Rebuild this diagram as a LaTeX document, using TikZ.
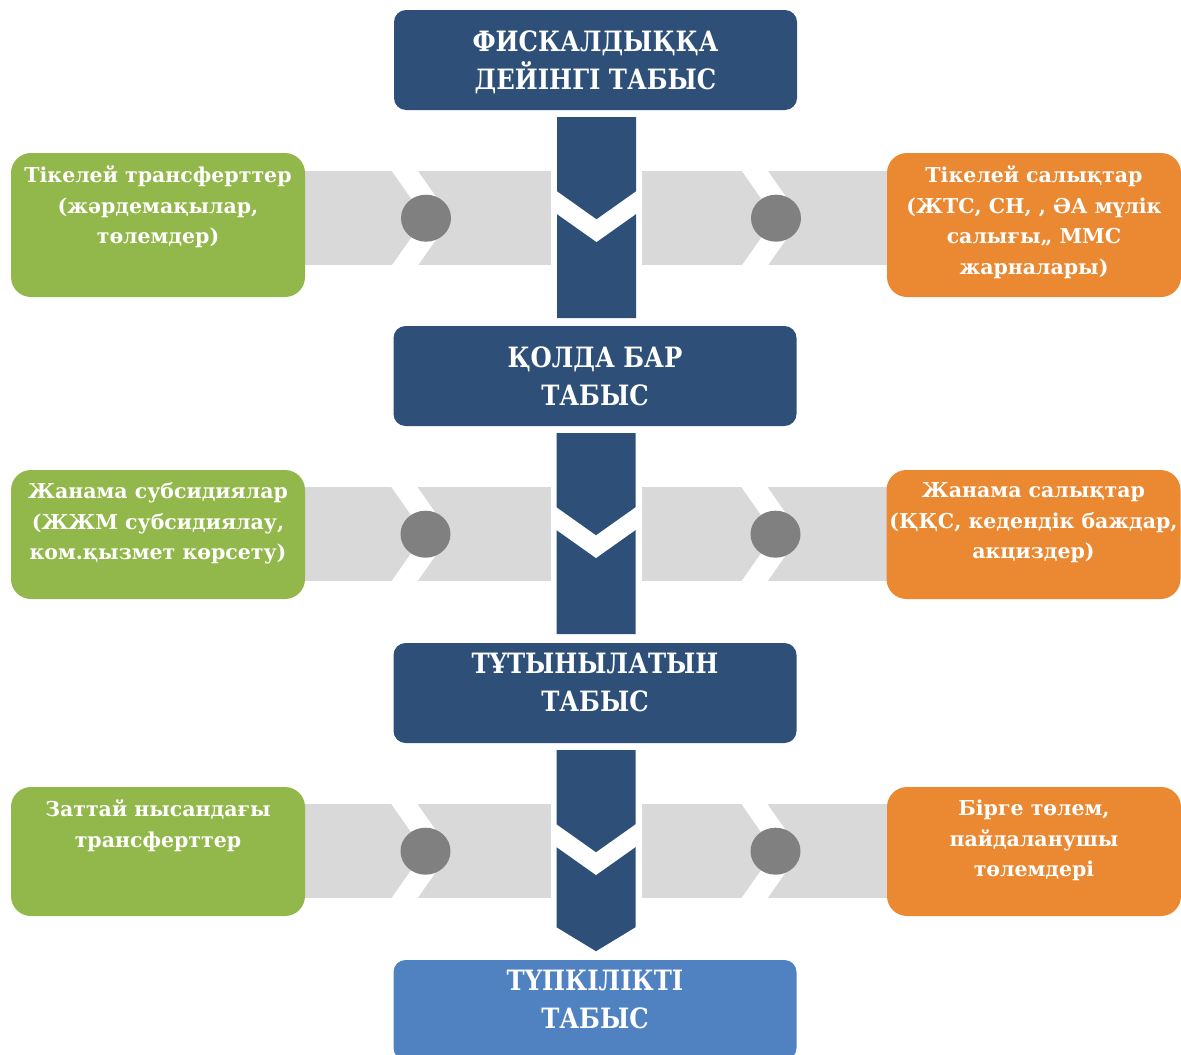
\documentclass[tikz,border=0pt]{standalone}
\usepackage{fontspec}
\setmainfont{DejaVu Serif}
\newfontfamily\stagefont[FakeStretch=0.87]{DejaVu Serif}
\usetikzlibrary{calc}
\definecolor{fiscblue}{RGB}{46,79,120}
\definecolor{fisclight}{RGB}{80,130,194}
\definecolor{trgreen}{RGB}{146,183,74}
\definecolor{taxorange}{RGB}{235,137,50}
\definecolor{bargrey}{RGB}{217,217,217}
\definecolor{dotgrey}{RGB}{128,128,128}
\newcommand\sidetext[2]{\parbox[c][#1][t]{290pt}{\centering\vspace*{13pt}#2}}

\begin{document}
\begin{tikzpicture}[x=1pt, y=-1pt,
  stage/.style={rectangle, rounded corners=12pt, fill=fiscblue, minimum width=403pt,
                minimum height=100pt, inner sep=0pt, align=center, text=white,
                font=\stagefont\fontsize{28}{38}\selectfont\bfseries},
  sidebox/.style={rectangle, rounded corners=20pt, minimum width=294pt, inner sep=0pt,
                  text=white, font=\fontsize{20.5}{30.5}\selectfont\bfseries},
  bar/.style={fill=bargrey},
  seg/.style={fill=fiscblue}
]
  \useasboundingbox (0,0) rectangle (1181,1055);
  % income stages
  \node[stage, text depth=-1pt] (s0) at (595.5,60) {ФИСКАЛДЫҚҚА\\ДЕЙІНГІ ТАБЫС};
  \node[stage] (s1) at (595,376)   {ҚОЛДА БАР\\ТАБЫС};
  \node[stage, text depth=22pt] (s2) at (595,693) {ТҰТЫНЫЛАТЫН\\ТАБЫС};
  \node[stage, text depth=22pt, fill=fisclight] (s3) at (595,1010) {ТҮПКІЛІКТІ\\ТАБЫС};
  % down arrows with side bars
  \foreach \k in {0,1,2}{
    \begin{scope}[shift={($(s\k.south)+(1,7)$)}]
      \fill[bar] (-306,54) rectangle (-45.5,148);
      \fill[bar] (45.5,54) rectangle (306,148);
      \fill[white] (-204.5,54) -- (-178.5,54) -- (-145.5,101) -- (-178.5,148)
                   -- (-204.5,148) -- (-171.5,101) -- cycle;
      \fill[white] (145.5,54) -- (171.5,54) -- (204.5,101) -- (171.5,148)
                   -- (145.5,148) -- (178.5,101) -- cycle;
      \fill[dotgrey] (-170.5,101) ellipse [x radius=25pt, y radius=23.5pt];
      \fill[dotgrey] (179.5,101) ellipse [x radius=25pt, y radius=23.5pt];
      \fill[seg] (-39.5,0) -- (39.5,0) -- (39.5,74) -- (0,102) -- (-39.5,74) -- cycle;
      \ifnum\k<2
        \fill[seg] (-39.5,97) -- (0,125) -- (39.5,97) -- (39.5,201) -- (-39.5,201) -- cycle;
      \else
        \fill[seg] (-39.5,97) -- (0,125) -- (39.5,97) -- (39.5,177) -- (0,201)
                   -- (-39.5,177) -- cycle;
      \fi
    \end{scope}
  }
  % transfers and taxes
  \node[sidebox, fill=trgreen] (tr1) at (158,225)
    {\sidetext{144pt}{Тікелей трансферттер\\(жәрдемақылар,\\төлемдер)}};
  \node[sidebox, fill=taxorange] (tx1) at (1034,225)
    {\sidetext{144pt}{Тікелей салықтар\\(ЖТС, СН, , ӘА мүлік\\салығы,, ММС\\жарналары)}};
  \node[sidebox, fill=trgreen] (tr2) at (158,534.5)
    {\sidetext{129pt}{Жанама субсидиялар\\(ЖЖМ субсидиялау,\\ком.қызмет көрсету)}};
  \node[sidebox, fill=taxorange] (tx2) at (1033.5,534.5)
    {\sidetext{129pt}{Жанама салықтар\\\makebox[\linewidth]{(ҚҚС, кедендік баждар,}\\акциздер)}};
  \node[sidebox, fill=trgreen] (tr3) at (158,851.5)
    {\sidetext{129pt}{Заттай нысандағы\\трансферттер}};
  \node[sidebox, fill=taxorange] (tx3) at (1034,851.5)
    {\sidetext{129pt}{Бірге төлем,\\пайдаланушы\\төлемдері}};
\end{tikzpicture}
\end{document}
